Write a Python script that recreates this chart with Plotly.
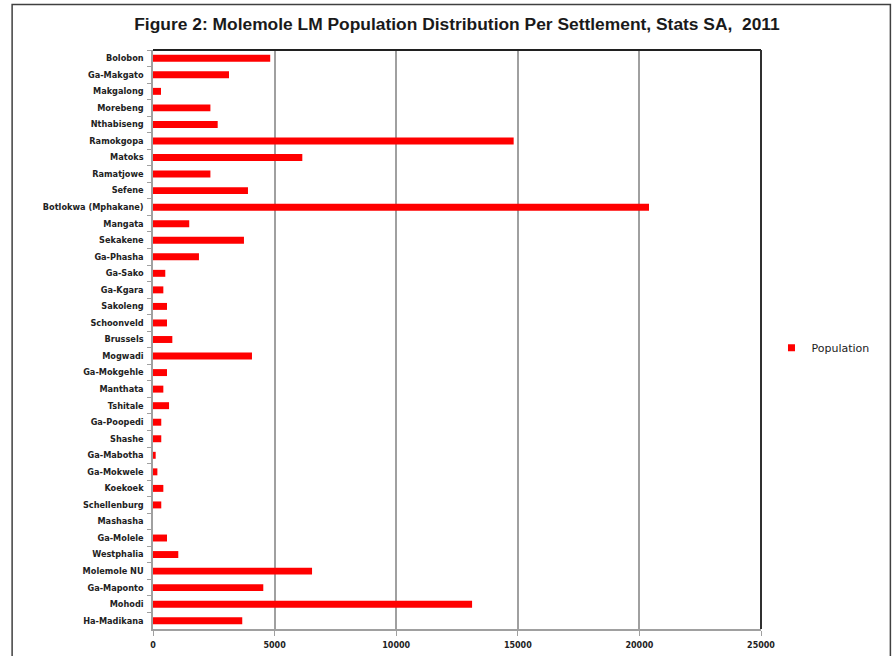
import plotly.graph_objects as go

# Settlements (top to bottom) and their 2011 population counts
settlements = [
    "Bolobon", "Ga-Makgato", "Makgalong", "Morebeng", "Nthabiseng",
    "Ramokgopa", "Matoks", "Ramatjowe", "Sefene", "Botlokwa (Mphakane)",
    "Mangata", "Sekakene", "Ga-Phasha", "Ga-Sako", "Ga-Kgara",
    "Sakoleng", "Schoonveld", "Brussels", "Mogwadi", "Ga-Mokgehle",
    "Manthata", "Tshitale", "Ga-Poopedi", "Shashe", "Ga-Mabotha",
    "Ga-Mokwele", "Koekoek", "Schellenburg", "Mashasha", "Ga-Molele",
    "Westphalia", "Molemole NU", "Ga-Maponto", "Mohodi", "Ha-Madikana",
]
population = [
    4820, 3125, 330, 2360, 2660,
    14830, 6140, 2360, 3905, 20395,
    1490, 3740, 1890, 505, 425,
    575, 575, 795, 4070, 575,
    425, 660, 340, 340, 110,
    180, 425, 340, 0, 575,
    1040, 6540, 4535, 13120, 3670,
]
x_ticks = [0, 5000, 10000, 15000, 20000, 25000]

title_text = "Figure 2: Molemole LM Population Distribution Per Settlement, Stats SA,  2011"

W, H = 896, 656
ml, mr, mt, mb = 153, 134.5, 50.4, 27
pw = W - ml - mr
ph = H - mt - mb


def px_x(p):
    return (p - ml) / pw


def px_y(p):
    return (H - mb - p) / ph


fig = go.Figure()
fig.add_trace(go.Bar(
    x=population,
    y=settlements,
    orientation="h",
    name="Population",
    legendgroup="pop",
    marker=dict(color="#ff0000", line=dict(width=0)),
    showlegend=False,
))
# legend key: small red square for the Population series
fig.add_trace(go.Scatter(
    x=[None],
    y=[None],
    mode="markers",
    name="Population",
    legendgroup="pop",
    marker=dict(color="#ff0000", symbol="square", size=7),
    showlegend=True,
))

fig.update_layout(
    width=W,
    height=H,
    margin=dict(l=ml, r=mr, t=mt, b=mb, autoexpand=False),
    paper_bgcolor="white",
    plot_bgcolor="white",
    bargap=0.58,
    title=dict(
        text="<b>" + title_text + "</b>",
        x=0.5,
        xref="paper",
        xanchor="center",
        y=1 - 24 / H,
        yanchor="middle",
        font=dict(family="Liberation Sans Narrow, Arial Narrow, sans-serif", size=17.4, color="#1a1a1a"),
    ),
    xaxis=dict(
        range=[0, 25000],
        tickvals=x_ticks,
        ticktext=[str(v) for v in x_ticks],
        showgrid=True,
        gridcolor="#a0a0a0",
        gridwidth=1.5,
        zeroline=False,
        showline=True,
        linecolor="#a0a0a0",
        linewidth=1.5,
        ticks="outside",
        ticklen=5,
        tickcolor="#a0a0a0",
        ticklabelstandoff=3,
        tickfont=dict(family="DejaVu Sans", size=8, color="#222222", weight="bold"),
        fixedrange=True,
    ),
    yaxis=dict(
        categoryorder="array",
        categoryarray=settlements,
        autorange="reversed",
        showgrid=False,
        zeroline=False,
        showline=True,
        linecolor="#a0a0a0",
        linewidth=1.5,
        ticks="outside",
        tickson="boundaries",
        ticklen=4,
        tickcolor="#a0a0a0",
        tickfont=dict(family="DejaVu Sans", size=8.2, color="#222222", weight="bold"),
        ticklabelstandoff=6,
        fixedrange=True,
    ),
    legend=dict(
        x=px_x(772),
        y=px_y(348),
        xanchor="left",
        yanchor="middle",
        bgcolor="rgba(0,0,0,0)",
        font=dict(family="DejaVu Sans", size=11, color="#222222"),
        itemwidth=30,
    ),
    shapes=[
        # dark top and right edges of the plot area
        dict(type="line", xref="paper", yref="paper", x0=0, x1=1, y0=1, y1=1,
             line=dict(color="#202020", width=2)),
        dict(type="line", xref="paper", yref="paper", x0=1, x1=1, y0=0, y1=1,
             line=dict(color="#303030", width=2)),
        # outer chart frame
        dict(type="rect", xref="paper", yref="paper",
             x0=px_x(12), x1=px_x(891), y0=px_y(662), y1=px_y(5),
             line=dict(color="#404040", width=1.5), fillcolor="rgba(0,0,0,0)",
             layer="below"),
    ],
)

fig.write_html("out.html")
